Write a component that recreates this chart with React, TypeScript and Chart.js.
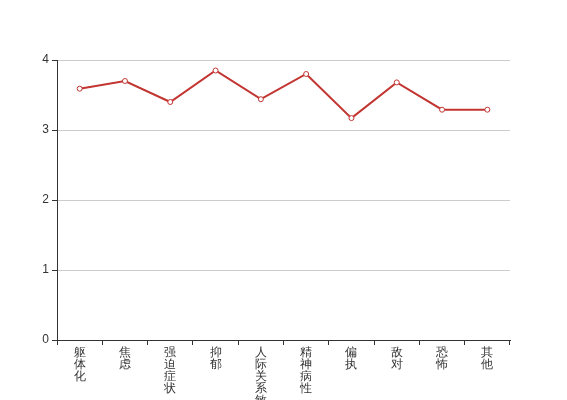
import React, { useEffect, useRef } from "react";
import { Chart, registerables } from "chart.js";

Chart.register(...registerables);

const categories = ["躯体化", "焦虑", "强迫症状", "抑郁", "人际关系敏感", "精神病性", "偏执", "敌对", "恐怖", "其他"];
const values = [3.59, 3.70, 3.40, 3.85, 3.44, 3.80, 3.17, 3.68, 3.29, 3.29];
const yTicks = [0, 1, 2, 3, 4];

export default function App() {
  const ref = useRef<HTMLCanvasElement>(null);
  useEffect(() => {
    if (!ref.current) return;
    const font = { family: "sans-serif", size: 12 };
    const chart = new Chart(ref.current, {
      type: "line",
      data: {
        labels: categories.map((c) => c.split("")),
        datasets: [
          {
            data: values,
            borderColor: "#c23531",
            borderWidth: 2,
            pointRadius: 2.5,
            pointBackgroundColor: "#ffffff",
            pointBorderColor: "#c23531",
            pointBorderWidth: 1,
            tension: 0,
          },
        ],
      },
      options: {
        responsive: false,
        animation: false,
        layout: { padding: { top: 60, right: 57, left: 0, bottom: 0 } },
        plugins: { legend: { display: false }, tooltip: { enabled: false } },
        scales: {
          x: {
            offset: true,
            afterFit: (s: any) => {
              s.height = 60;
            },
            grid: {
              offset: true,
              drawOnChartArea: false,
              color: "#333",
              tickColor: "#333",
              tickLength: 5,
            },
            border: { color: "#333", width: 1 },
            ticks: {
              autoSkip: false,
              maxRotation: 0,
              minRotation: 0,
              padding: 2,
              color: "#333",
              font: { ...font, lineHeight: 1.0 },
            },
          },
          y: {
            min: 0,
            max: 4,
            afterFit: (s: any) => {
              s.width = 57;
            },
            afterBuildTicks: (s: any) => {
              s.ticks = yTicks.map((v) => ({ value: v }));
            },
            grid: {
              color: "#cccccc",
              tickColor: "#333",
              tickLength: 5,
            },
            border: { color: "#333", width: 1 },
            ticks: { padding: 3, color: "#333", font },
          },
        },
      },
    });
    return () => chart.destroy();
  }, []);
  return (
    <div style={{ position: "fixed", left: 0, top: 0, width: 567, height: 400, overflow: "hidden", background: "#fff" }}>
      <canvas ref={ref} width={567} height={400} style={{ display: "block" }} />
    </div>
  );
}
